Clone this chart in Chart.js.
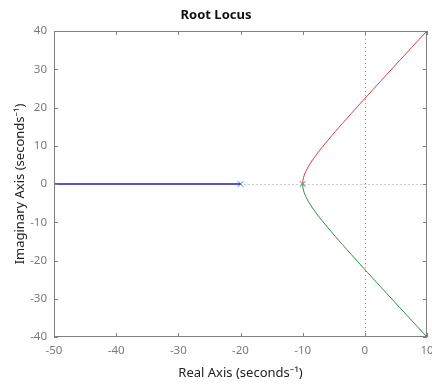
<!DOCTYPE html>
<html>
<head>
<meta charset="utf-8">
<script src="https://cdn.jsdelivr.net/npm/chart.js@4"></script>
<style>
  body { margin: 0; background: #fff; }
  #wrap { width: 432px; height: 386px; }
</style>
</head>
<body>
<div id="wrap"><canvas id="myChart"></canvas></div>
<script>
// branch leaving the double pole upward (red)
const upRe = [-10, -9.96, -9.84, -9.63, -9.31, -8.85, -8.17, -6.91, -5.6, -4.72, -3.6, -2.16, -0.22, 2.51, 6.61, 10.23];
const upIm = [0, 0.88, 1.79, 2.78, 3.89, 5.2, 6.83, 9.51, 12.08, 13.76, 15.84, 18.47, 21.97, 26.83, 34.06, 40.42];
// branch leaving downward (green)
const downRe = [-10, -9.96, -9.84, -9.63, -9.31, -8.85, -8.17, -6.91, -5.6, -4.72, -3.6, -2.16, -0.22, 2.51, 6.61, 10.23];
const downIm = [0, -0.88, -1.79, -2.78, -3.89, -5.2, -6.83, -9.51, -12.08, -13.76, -15.84, -18.47, -21.97, -26.83, -34.06, -40.42];
// real-axis branch (blue)
const realRe = [-20, -55];
const realIm = [0, 0];
// open loop poles
const poleRe = [-20, -10];
const poleIm = [0, 0];

const xTicks = [-50, -40, -30, -20, -10, 0, 10];
const yTicks = [-40, -30, -20, -10, 0, 10, 20, 30, 40];

const pts = (xs, ys) => xs.map((x, i) => ({ x: x, y: ys[i] }));

const boxPlugin = {
    id: "box",
    beforeDatasetsDraw(chart) {
        const { ctx, chartArea: a, scales: { x, y } } = chart;
        ctx.save();
        ctx.strokeStyle = "#9a9a9a";
        ctx.lineWidth = 1;
        ctx.setLineDash([1, 3]);
        const x0 = Math.round(x.getPixelForValue(0)) + 0.5;
        const y0 = Math.round(y.getPixelForValue(0)) + 0.5;
        ctx.beginPath();
        ctx.moveTo(x0, a.top); ctx.lineTo(x0, a.bottom);
        ctx.moveTo(x.getPixelForValue(-20), y0); ctx.lineTo(a.right, y0);
        ctx.stroke();
        ctx.restore();
    },
    afterDatasetsDraw(chart) {
        const { ctx, chartArea: a, scales: { x, y } } = chart;
        ctx.save();
        ctx.strokeStyle = "#808080";
        ctx.lineWidth = 1;
        ctx.strokeRect(Math.round(a.left) + 0.5, Math.round(a.top) + 0.5,
            Math.round(a.right - a.left) - 1, Math.round(a.bottom - a.top) - 1);
        ctx.beginPath();
        xTicks.forEach(v => {
            const px = Math.round(x.getPixelForValue(v)) + 0.5;
            ctx.moveTo(px, a.top); ctx.lineTo(px, a.top + 4);
            ctx.moveTo(px, a.bottom); ctx.lineTo(px, a.bottom - 4);
        });
        yTicks.forEach(v => {
            const py = Math.round(y.getPixelForValue(v)) + 0.5;
            ctx.moveTo(a.left, py); ctx.lineTo(a.left + 4, py);
            ctx.moveTo(a.right, py); ctx.lineTo(a.right - 4, py);
        });
        ctx.stroke();
        ctx.restore();
    }
};

Chart.defaults.font.family = "'Noto Sans', sans-serif";

new Chart(document.getElementById("myChart"), {
    type: "scatter",
    data: {
        datasets: [
            {
                data: pts(realRe, realIm),
                showLine: true,
                borderColor: "#1c1cb4",
                borderWidth: 1.4,
                pointRadius: 0,
                tension: 0
            },
            {
                data: pts(upRe, upIm),
                showLine: true,
                borderColor: "#d83a48",
                borderWidth: 1,
                pointRadius: 0,
                tension: 0.3
            },
            {
                data: pts(downRe, downIm),
                showLine: true,
                borderColor: "#2e8b40",
                borderWidth: 1,
                pointRadius: 0,
                tension: 0.3
            },
            {
                data: pts(poleRe, poleIm),
                showLine: false,
                pointStyle: "crossRot",
                pointRadius: 4,
                pointBorderWidth: 1,
                pointBorderColor: ["#4f7fe0", "#2f9a90"],
                pointBackgroundColor: "transparent"
            }
        ]
    },
    options: {
        responsive: true,
        maintainAspectRatio: false,
        animation: false,
        events: [],
        layout: { padding: 0 },
        clip: { left: 0, top: 0, right: 0, bottom: 0 },
        plugins: {
            legend: { display: false },
            tooltip: { enabled: false },
            title: {
                display: true,
                text: "Root Locus",
                color: "#111",
                font: { size: 13, weight: "bold" },
                padding: { top: 7, bottom: 8.4 }
            }
        },
        scales: {
            x: {
                type: "linear",
                min: -50,
                max: 10,
                afterBuildTicks: s => { s.ticks = xTicks.map(v => ({ value: v })); },
                afterFit: s => { s.height = 49; s.paddingLeft = 0; s.paddingRight = 0; },
                grid: { display: false, drawTicks: false },
                border: { display: false },
                ticks: { color: "#7a7a7a", font: { size: 11.5 }, padding: 7, maxRotation: 0 },
                title: {
                    display: true,
                    text: "Real Axis (seconds\u207B\u00B9)",
                    color: "#222",
                    font: { size: 13 },
                    padding: { top: 0, bottom: 5 }
                }
            },
            y: {
                type: "linear",
                min: -40,
                max: 40,
                afterBuildTicks: s => { s.ticks = yTicks.map(v => ({ value: v })); },
                afterFit: s => { s.width = 54; },
                grid: { display: false, drawTicks: false },
                border: { display: false },
                ticks: { color: "#7a7a7a", font: { size: 11.5 }, padding: 7 },
                title: {
                    display: true,
                    text: "Imaginary Axis (seconds\u207B\u00B9)",
                    color: "#222",
                    font: { size: 13 },
                    padding: { top: 12, bottom: 0 }
                }
            }
        }
    },
    plugins: [boxPlugin]
});
</script>
</body>
</html>
